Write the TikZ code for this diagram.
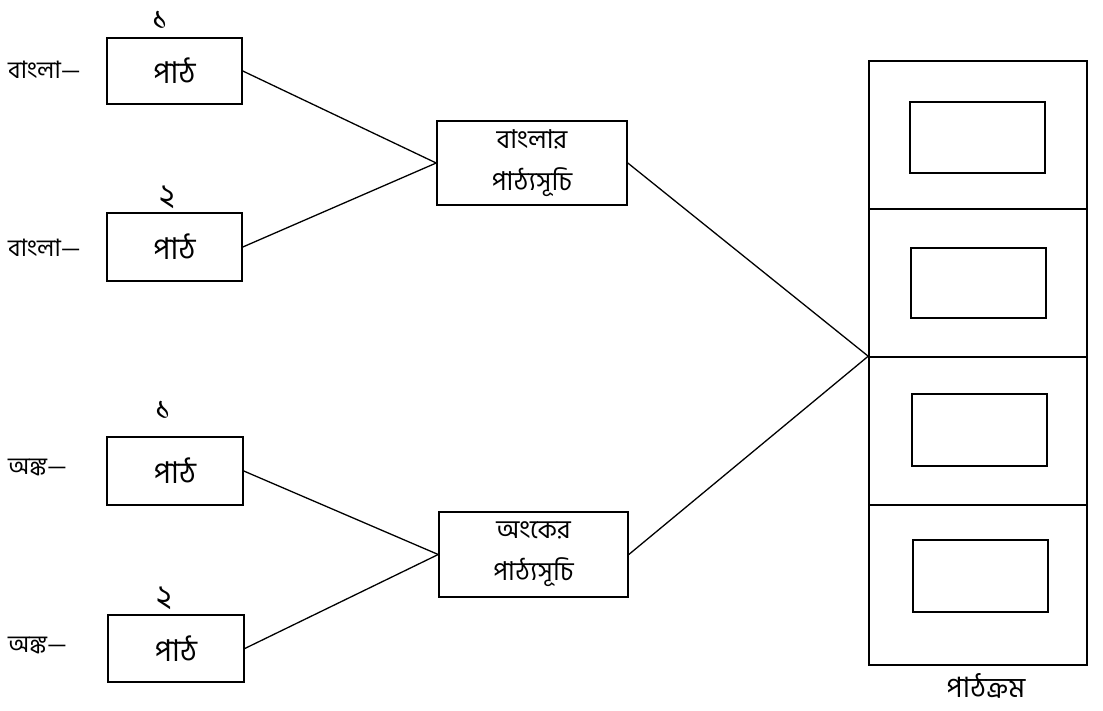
\documentclass[tikz,border=0pt]{standalone}
\usepackage{fontspec}
\newfontfamily\bnfont[Script=Bengali]{Hind Siliguri}
\begin{document}
\begin{tikzpicture}[x=1pt,y=-1pt,
  box/.style={draw,line width=1.6pt,inner sep=0pt,align=center},
  lesson/.style={box,font=\bnfont\fontsize{30}{36}\selectfont},
  syll/.style={box,font=\bnfont\fontsize{26}{42}\selectfont},
  cell/.style={draw,line width=1.6pt,inner sep=0pt,minimum width=218pt},
  inner/.style={draw,line width=1.6pt,inner sep=0pt,minimum width=135pt},
  lbl/.style={inner sep=0pt,font=\bnfont\fontsize{24}{26}\selectfont},
  num/.style={inner sep=0pt,font=\bnfont\fontsize{32}{34}\selectfont},
  link/.style={line width=1.3pt}]
\useasboundingbox (0,0) rectangle (1103,710);
% left lesson boxes
\node[lesson,minimum width=135pt,minimum height=66pt] (p1) at (174.5,71) {পাঠ};
\node[lesson,minimum width=135pt,minimum height=68pt] (p2) at (174.5,247) {পাঠ};
\node[lesson,minimum width=136pt,minimum height=68pt] (p3) at (175,471) {পাঠ};
\node[lesson,minimum width=136pt,minimum height=67pt] (p4) at (176,648.5) {পাঠ};
% numbers
\node[num] (n1) at (160,20) {১};
\node[num] (n2) at (167,197) {২};
\node[num] (n3) at (163,410) {১};
\node[num] (n4) at (164,598) {২};
% side labels
\node[lbl,anchor=west] (l1) at (8,70) {বাংলা—};
\node[lbl,anchor=west] (l2) at (8,248) {বাংলা—};
\node[lbl,anchor=west] (l3) at (8,467) {অঙ্ক—};
\node[lbl,anchor=west] (l4) at (8,645) {অঙ্ক—};
% syllabus boxes
\node[syll,minimum width=190pt,minimum height=84pt] (s1) at (532,163) {বাংলার\\পাঠ্যসূচি};
\node[syll,minimum width=189pt,minimum height=85pt] (s2) at (533.5,554.5) {অংকের\\পাঠ্যসূচি};
% course column
\node[cell,minimum height=148pt] (c1) at (978,135) {};
\node[cell,minimum height=148pt] (c2) at (978,283) {};
\node[cell,minimum height=148pt] (c3) at (978,431) {};
\node[cell,minimum height=160pt] (c4) at (978,585) {};
\node[inner,minimum height=71pt] (r1) at (977.5,137.5) {};
\node[inner,minimum height=70pt] (r2) at (978.5,283) {};
\node[inner,minimum height=72pt] (r3) at (979.5,430) {};
\node[inner,minimum height=72pt] (r4) at (980.5,576) {};
\node[inner sep=0pt,font=\bnfont\fontsize{28}{30}\selectfont] (t) at (986,686) {পাঠক্রম};
\coordinate (conv) at (c3.north west);
% connectors
\draw[link] (p1.east) -- (s1.west);
\draw[link] (p2.east) -- (s1.west);
\draw[link] (p3.east) -- (s2.west);
\draw[link] (p4.east) -- (s2.west);
\draw[link] (s1.east) -- (conv);
\draw[link] (s2.east) -- (conv);
\end{tikzpicture}
\end{document}
